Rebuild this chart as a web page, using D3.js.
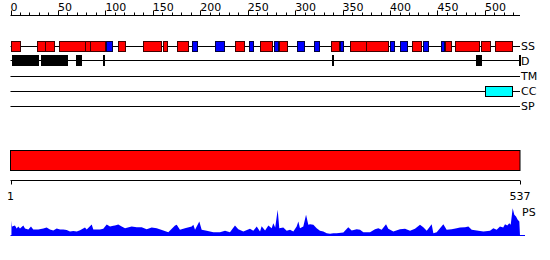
<!DOCTYPE html>
<html>
<head>
<meta charset="utf-8">
<script src="https://cdn.jsdelivr.net/npm/d3@7"></script>
<style>
  body { margin: 0; background: #fff; }
  text { font-family: "DejaVu Sans", sans-serif; font-size: 11px; fill: #000; }
</style>
</head>
<body>
<div id="chart"></div>
<script>
const svgWidth = 550;
const svgHeight = 260;
const seqLength = 537;

// secondary structure: helix (red) and strand (blue) segments, [start, end]
const helices = [[1,11],[28,36],[36,46],[51,79],[79,84],[84,100],[113,120],[140,159],[161,165],
  [175,187],[237,247],[263,276],[283,291],[338,346],[358,375],[375,398],[423,433],[458,464],
  [468,493],[496,506],[511,529]];
const strands = [[101,107],[191,196],[216,226],[251,255],[278,282],[302,309],[320,325],[347,350],
  [400,404],[410,417],[435,440],[454,457]];
// disordered regions
const disorder = [[0,5],[6,29],[31,59],[68,74],[96,97],[338,339],[490,496],[535,537]];
// transmembrane, coiled coil, signal peptide
const transmem = [];
const coiled = [[500,528]];
const signalPep = [];

const rowLabels = ["SS", "D", "TM", "CC", "SP"];

// PS profile (position, height)
const psPos = [1,1.6,4.7,6.5,8.2,10,13.5,15.3,18.8,21.6,24,29.3,34.6,38.1,41.6,45.1,48.7,52.2,55.7,59.2,
  62.7,66.2,69.8,73.3,78.5,80.3,85.6,87.3,90.8,94.3,97.8,101.4,104.9,108.3,110.1,113.6,117.2,120.7,
  127.7,133,138.3,143.5,148.8,154.1,161.1,166.3,173.4,175.2,178.6,183.9,191,192.7,194.5,199,201.5,
  206.8,213.8,220.8,226.1,231.3,236.6,240.1,245.4,252.4,255.9,259.5,263,264.7,268.3,271.8,275.3,277,
  279,281.6,283.3,287.5,291.1,294.6,298.1,301.6,303.4,305.1,308.6,311.5,313.9,315.7,319.2,322.7,
  326.2,329.7,333.3,336.8,340.3,343.8,350.8,356,359.6,364.9,368.4,371.9,378.9,384.2,387.7,391.2,
  395.8,398.2,403.5,410.5,415.8,421.1,426.3,431.6,435.1,438.7,443.9,445.7,449.2,456.2,459.7,465,
  470.3,473.8,479.1,482.6,486.1,491.4,498.4,505.4,508.9,512.4,515.9,519.3,521.2,523.6,525.7,527.2,
  529.3,531,532.8,534.6,536.3,537];
const psVal = [14.7,9,10,7,9,7,10,7,6,9,6,6,7,8,6,5,7,6,6,5.5,4,4.5,4,5.3,8,6,11,6,6,6,6.7,11,9,9.7,
  10,11,9,7.3,9,8.3,8.3,6.3,8,7.3,5,3.3,10,10.7,5.7,7.3,9,10.7,5.7,14,5.7,4.7,3.3,3.3,4.7,3.3,10,6.3,
  4,6.7,4.7,9,4,9.3,5,10,7.3,12.3,8,25.7,7.3,8,4.7,5.7,4,9,14,7.3,9,20.7,10.7,11.3,10.7,7.3,4.7,4,
  2.3,1.7,2.3,2.3,3,8.3,5,6.3,5.7,3.3,3.3,6.3,7.3,5.7,11.3,6.7,4,6.3,6.7,4.7,6.7,10.7,8.3,4.7,11.3,
  2.3,3.3,11.3,5.7,6.3,7.3,8,8.3,9,5.7,5,4,4.7,7.3,5.7,9,8,11.3,10,12.3,10.7,27.3,20.7,19,15.7,14,0];

const x = d3.scaleLinear().domain([0, seqLength]).range([10.5, 520]);

const svg = d3.select("#chart")
  .append("svg")
  .attr("width", svgWidth)
  .attr("height", svgHeight);

// top ruler
const rulerY = 15.5;
svg.append("line")
  .attr("x1", x(0)).attr("x2", x(seqLength))
  .attr("y1", rulerY).attr("y2", rulerY)
  .attr("stroke", "#000");

const tickVals = d3.range(0, seqLength, 10);
svg.selectAll(".rtick")
  .data(tickVals)
  .enter()
  .append("line")
  .attr("x1", d => Math.round(x(d)) + 0.5)
  .attr("x2", d => Math.round(x(d)) + 0.5)
  .attr("y1", d => d % 50 === 0 ? rulerY - 5 : rulerY - 3)
  .attr("y2", rulerY)
  .attr("stroke", "#000");

svg.selectAll(".rlabel")
  .data(tickVals.filter(d => d % 50 === 0))
  .enter()
  .append("text")
  .attr("x", d => x(d))
  .attr("y", 11)
  .text(d => d);

// feature rows
const rowY = { SS: 45.5, D: 60, TM: 75.5, CC: 90.5, SP: 105.5 };

rowLabels.forEach(function(lab) {
  svg.append("line")
    .attr("x1", x(0)).attr("x2", x(seqLength))
    .attr("y1", Math.round(rowY[lab]) + 0.5).attr("y2", Math.round(rowY[lab]) + 0.5)
    .attr("stroke", "#000");
  svg.append("text")
    .attr("x", x(seqLength) + 1)
    .attr("y", rowY[lab] + 4.5)
    .text(lab);
});

function drawBoxes(data, row, fill, stroke, h, gap) {
  svg.selectAll(null)
    .data(data)
    .enter()
    .append("rect")
    .attr("x", d => Math.round(x(d[0])) + 0.5 + gap)
    .attr("y", Math.round(rowY[row] - h / 2) + 0.5)
    .attr("width", d => Math.max(1, Math.round(x(d[1]) - x(d[0])) - gap))
    .attr("height", h)
    .attr("fill", fill)
    .attr("stroke", stroke);
}

drawBoxes(helices, "SS", "#ff0000", "#400000", 10, 0);
drawBoxes(strands, "SS", "#0000ff", "#000040", 10, 0);
drawBoxes(disorder, "D", "#000", "#000", 10, 1);
drawBoxes(transmem, "TM", "#ffff00", "#000", 10, 0);
drawBoxes(coiled, "CC", "#00ffff", "#000", 10, 0);
drawBoxes(signalPep, "SP", "#00ff00", "#000", 10, 0);

// full-length bar
svg.append("rect")
  .attr("x", x(0)).attr("y", 150.5)
  .attr("width", x(seqLength) - x(0)).attr("height", 20)
  .attr("fill", "#ff0000")
  .attr("stroke", "#000");

// bottom scale
const baseY = 180.5;
svg.append("line")
  .attr("x1", x(0)).attr("x2", x(seqLength))
  .attr("y1", baseY).attr("y2", baseY)
  .attr("stroke", "#000");
[0, seqLength].forEach(function(d) {
  svg.append("line")
    .attr("x1", Math.round(x(d)) + 0.5).attr("x2", Math.round(x(d)) + 0.5)
    .attr("y1", baseY).attr("y2", baseY + 4)
    .attr("stroke", "#000");
  svg.append("text")
    .attr("x", x(d))
    .attr("y", 200)
    .attr("text-anchor", "middle")
    .text(d === 0 ? 1 : d);
});

// PS profile
const yPs = d3.scaleLinear().domain([0, 30]).range([235.5, 205.5]);
const area = d3.area()
  .x((d, i) => x(psPos[i]))
  .y0(yPs(0))
  .y1(d => yPs(d));

svg.append("path")
  .datum(psVal)
  .attr("d", area)
  .attr("fill", "#0000ff");

svg.append("line")
  .attr("x1", x(0)).attr("x2", x(seqLength) + 5)
  .attr("y1", 235.5).attr("y2", 235.5)
  .attr("stroke", "#0000ff");

svg.append("text")
  .attr("x", x(seqLength) + 2)
  .attr("y", 216)
  .text("PS");
</script>
</body>
</html>
